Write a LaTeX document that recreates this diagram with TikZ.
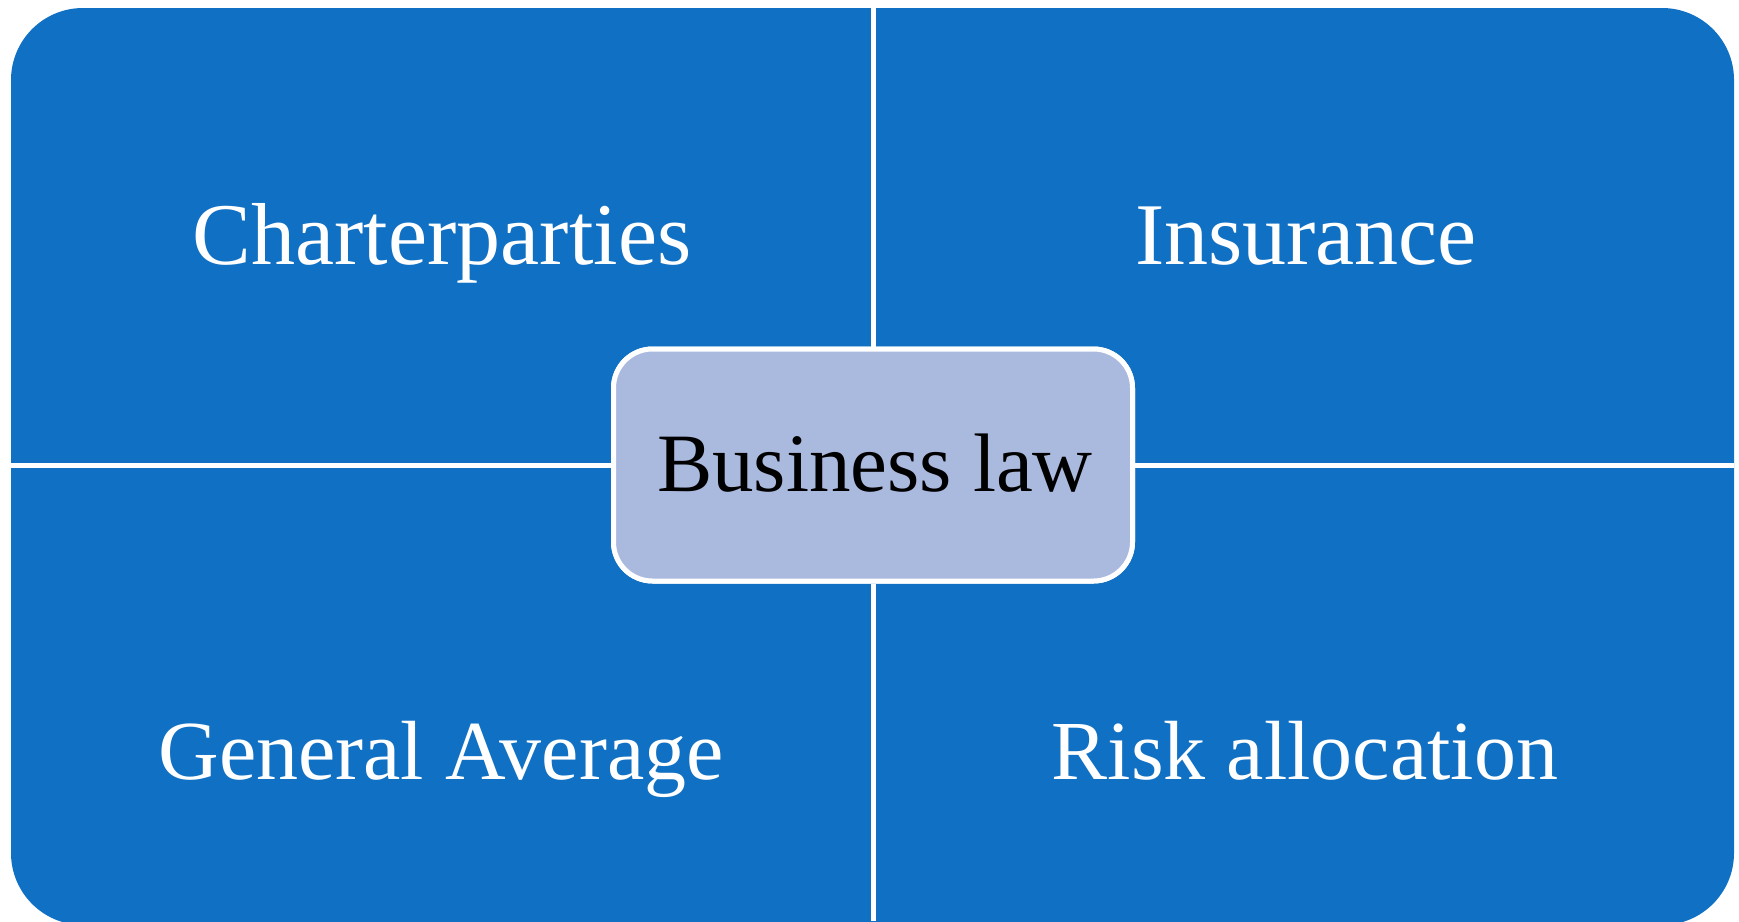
\documentclass[tikz,border=0pt]{standalone}
\usepackage{fontspec}
\setmainfont{Liberation Serif}
\definecolor{panelblue}{RGB}{16,112,196}
\definecolor{centerfill}{RGB}{170,185,222}
\begin{document}
\begin{tikzpicture}[x=1pt,y=-1pt,
  quadtext/.style={anchor=base,text=white,inner sep=0pt,font=\fontsize{88}{96}\selectfont},
  lowtext/.style={quadtext,font=\fontsize{84}{92}\selectfont},
  centerbox/.style={draw=white,line width=5pt,fill=centerfill,rounded corners=39pt,
    minimum width=519pt,minimum height=232pt,inner sep=0pt},
  divider/.style={draw=white,line width=5pt}]
\useasboundingbox (0,0) rectangle (1739,921);
\fill[white] (0,0) rectangle (1739,921);
\begin{scope}
\clip (0,0) rectangle (1739,921);
\fill[panelblue,rounded corners=72pt] (11,8) rectangle (1734,925);
\end{scope}
\coordinate (top) at (873,8);
\coordinate (bottom) at (873,921);
\coordinate (left) at (11,465);
\coordinate (right) at (1734,465);
\node[centerbox] (center) at (873,465) {};
\draw[divider] (top) -- (center.north);
\draw[divider] (center.south) -- (bottom);
\draw[divider] (left) -- (center.west);
\draw[divider] (center.east) -- (right);
\node[centerbox] at (center) {};
\node[anchor=base,inner sep=0pt,font=\fontsize{83}{90}\selectfont] (centertext) at (875,491) {Business law};
\node[quadtext] (tl) at (442,264) {Charterparties};
\node[quadtext] (tr) at (1306,264) {Insurance};
\node[lowtext] (bl) at (441,779) {General Average};
\node[lowtext] (br) at (1305,779) {Risk allocation};
\end{tikzpicture}
\end{document}
